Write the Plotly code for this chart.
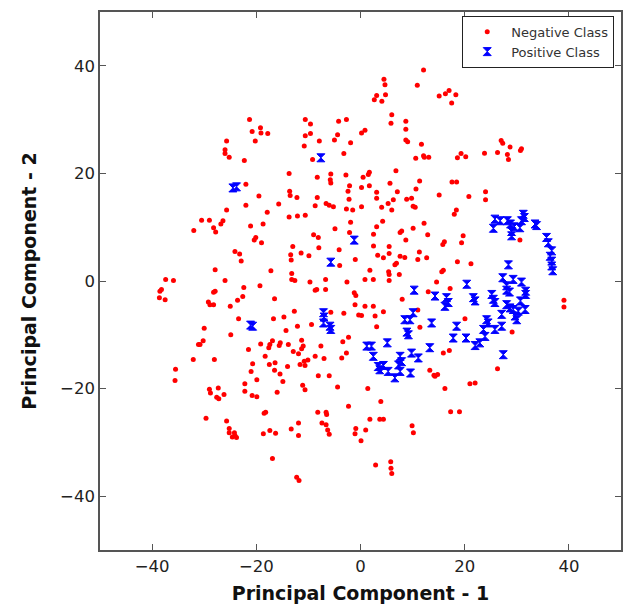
import plotly.graph_objects as go

# Negative class (red dots) - PC1 values
neg_x = [
    -21.3, -10.6, -9.6, -4.2, -2.7, -19.2, -20.8, -19.1, -17.8, -10.6, -9.6, -4.4, -5.0, -1.9,
    -25.7, -20.2, -7.9, -26.0, -26.0, -25.2, -22.3, -10.8, -9.2, -3.2,
    -13.7, -8.3, -5.7, -2.8, -5.8, -5.7, -22.0, -2.1, -2.4, -13.6, -13.5, -12.2, -19.5, -8.3, -2.2,
    -22.0, -15.7, -6.6, -6.0, -5.2, -8.7, -2.7, -1.5, -25.7, -17.9, -13.7, -12.1, -10.6,
    -30.5, -29.0, -26.4, -26.8, -28.2, -27.8, -32.0, -21.1, -18.7, -4.9, -1.9, -2.1, -9.0, -8.1,
    -20.1, -20.4, -19.0, -13.0, -8.0, -4.1, -11.4, -9.9, -13.4, -13.3, -24.1, -23.2, -22.9,
    -4.0, -1.0, -27.9, -17.2, -13.2,
    12.1, 4.5, 4.7, 10.9, 3.1, 2.65, 4.8, 4.1, 15.1, 16.3, 17.0, 18.3, 17.5, 6.0, 5.85, 8.7, 8.7,
    0.86, 0.2, 8.7, 9.05, 11.7, 10.6, 12.1, 12.25, 13.1, 18.6, 19.3, 20.2, 23.8, 26.3, 27.0, 27.3,
    28.7, 28.2, 28.4, 30.7, 30.9, 6.8, 1.7, 1.5, 0.5, 11.35, 17.56, 18.45, 5.66, 1.7, 0.2, 10.65,
    7.07, 3.1, 24.0, 15.1, 20.8, 24.0, 3.1, 8.86, 9.8, 6.3, 5.3, 4.06, 6.0, 10.1, 10.5, 0.2, 18.4,
    18.0, 4.25, 12.2, 3.1, 7.6, 7.9, 10.1, 2.5, 12.9, 19.7, 19.4, 8.7, 16.1, 15.8, 2.5, 5.5, 11.3,
    5.5, 3.3, 4.4, 7.6, 8.5, 12.7, 11.0, 6.9, 6.6, 18.6, 21.2, 1.8, 5.4, 5.5, 7.45, 15.6, 15.9, 30.6,
    -37.4, -35.9, -26.0, -38.2, -38.5, -38.6, -37.5, -27.9, -28.2, -22.4, -19.3, -29.2, -28.9,
    -28.2, -25.0, -23.6, -22.6, -16.5, -13.2, -12.6, -9.7, -8.7, -8.4, -6.7, -6.7, -2.6, -1.2,
    -0.9, -1.05, -12.7, -5.7, -3.2, -0.35, -14.7, -16.7, -12.1, -9.4, -23.4, -30.0, -14.3, -24.9,
    -30.2, -30.8, -31.1, -32.1, -28.05, -35.5, -35.6, -21.5, -19.16, -17.6, -17.4, -16.9, -15.6,
    -15.4, -13.85, -12.9, -11.9, -11.3, -11.0, -11.3, -7.6, -2.3, -3.4, -2.7, -3.6, -8.7, -7.0,
    -10.8, -10.1, -11.6, -10.65, -18.3, -17.5, -16.4, -14.0, -20.7, -21.0, -16.5, -15.45, -14.9,
    -19.9, -22.2, -22.2, -20.8, -19.9, -16.0, -11.1, -10.65, -8.1, -6.0, -4.4, -29.0, -28.8,
    -27.3, -26.2, -27.6, -27.2, -2.3, -29.65, -25.7, -18.5, -18.2, -25.2, -25.2, -24.2, -24.1,
    -24.6, -23.8, -18.65, -17.4, -16.3, -13.3, -11.9, -11.9, -8.2, -6.6, -6.5, -7.4, -6.6, -6.3,
    -6.0, -0.9, -1.05, -16.9, -12.25, -11.8,
    0.86, 2.46, 5.5, 14.6, 17.2, 13.0, 8.0, 0.86, 2.46, 4.4, 0.2, 2.8, 11.0, 3.1, 11.4, 20.05,
    29.1, 39.05, 39.05, 15.9, 17.05, 26.3, 13.3, 14.3, 14.8, 14.1, 16.2, 21.0, 22.0, 1.4, 3.9,
    1.8, 3.7, 4.4, 1.0, 0.1, 9.9, 10.15, 17.3, 19.0, 2.9, 5.8, 5.85, 6.0,
]
# Negative class (red dots) - PC2 values
neg_y = [
    30.0, 30.0, 29.2, 29.7, 30.0, 28.5, 27.8, 27.5, 27.4, 27.0, 27.4, 27.2, 26.2, 25.7,
    26.0, 26.0, 26.0, 24.4, 23.7, 23.0, 22.4, 25.1, 22.6, 23.7,
    20.0, 19.3, 19.9, 19.7, 18.8, 18.2, 18.0, 17.7, 16.7, 16.7, 15.9, 15.5, 15.8, 15.5, 15.2,
    14.1, 14.3, 14.4, 14.1, 13.8, 14.0, 13.4, 13.2, 13.2, 12.8, 11.9, 12.1, 12.2,
    11.3, 11.3, 11.2, 10.6, 9.9, 9.1, 9.4, 10.2, 10.6, 9.7, 10.9, 9.0, 8.6, 8.1,
    8.1, 7.6, 7.1, 6.4, 6.2, 5.8, 5.2, 4.7, 4.9, 3.9, 5.5, 5.0, 3.7,
    2.9, 4.0, 2.1, 1.9, 1.4,
    39.2, 37.5, 36.5, 36.4, 34.5, 33.7, 34.6, 33.4, 34.4, 34.8, 35.4, 34.6, 33.1, 30.9, 29.3, 29.7, 28.2,
    28.0, 27.5, 26.2, 25.9, 25.4, 22.8, 23.3, 23.0, 23.0, 22.9, 23.7, 23.1, 23.75, 23.9, 26.1, 25.6,
    24.9, 23.5, 22.6, 24.25, 24.6, 20.5, 20.2, 19.8, 19.3, 18.6, 18.4, 18.4, 18.15, 17.7, 17.4, 17.1,
    16.6, 16.5, 16.6, 16.0, 15.7, 15.1, 15.4, 15.2, 15.4, 15.1, 14.4, 13.7, 13.2, 13.9, 13.7, 13.8, 13.2,
    12.4, 11.1, 10.75, 10.1, 9.0, 9.3, 9.8, 8.7, 8.6, 8.4, 7.1, 7.6, 7.3, 6.8, 6.5, 6.4, 5.4,
    5.1, 4.8, 4.3, 4.6, 4.35, 4.3, 4.0, 3.3, 3.0, 3.6, 3.2, 2.0, 1.7, 1.2, 1.2, 1.7, 2.0, 7.6,
    0.3, 0.1, 0.1, -1.6, -1.9, -3.1, -3.5, -1.9, -2.1, -1.2, -0.9, -3.9, -4.4,
    -4.4, -4.7, -3.6, -2.9, -3.3, 0.3, 0.1, -0.2, -1.7, -1.6, 0.3, -1.6, -0.2, -2.2,
    -2.7, -4.4, -5.6, -5.8, -6.0, -6.3, -6.7, -7.0, -8.4, -8.1, -7.0, -8.8, -9.2, -10.0,
    -11.1, -11.8, -11.8, -14.6, -14.6, -16.4, -18.5, -12.75, -11.7, -12.4, -11.8, -11.1, -12.0,
    -11.5, -11.8, -13.1, -13.5, -11.0, -12.1, -12.6, -12.1, -10.45, -11.3, -13.4, -14.3, -14.0, -14.4,
    -14.9, -14.7, -15.5, -15.7, -14.0, -15.5, -15.2, -15.9, -15.4, -16.8, -16.6, -17.3, -18.7,
    -18.35, -19.1, -20.5, -21.3, -21.5, -20.7, -19.4, -20.2, -17.6, -17.6, -19.7, -20.1, -20.8,
    -19.9, -21.1, -21.6, -21.9, -23.3, -25.5, -26.0, -24.6, -24.4, -27.4, -28.2, -28.2, -28.7,
    -29.0, -29.1, -28.4, -27.8, -28.3, -27.5, -26.4, -28.7, -24.4, -24.4, -24.8, -26.4, -26.7, -27.7,
    -28.5, -27.4, -28.4, -33.0, -36.5, -37.1,
    0.3, 0.3, 0.1, -0.2, -1.4, -2.0, -3.4, -4.7, -4.7, -5.7, -6.4, -6.5, -5.4, -8.5, -8.6, -7.0,
    -9.5, -3.6, -4.85, -13.4, -12.9, -16.3, -16.6, -17.7, -17.4, -17.5, -20.0, -19.1, -18.97, -20.0, -22.4,
    -25.7, -25.7, -25.7, -27.7, -29.7, -26.9, -28.2, -24.3, -24.3, -34.2, -33.6, -34.8, -35.8,
]

# Positive class (blue hourglass markers)
pos_x = [
    -7.6, -24.5, -23.8, -1.2, -5.7,
    25.8, 25.5, 26.8, 28.2, 28.8, 29.5, 29.0, 29.0, 30.6, 30.9, 31.25, 31.45, 33.5, 33.8,
    35.7, 36.05, 36.7, 36.4, 36.7, 36.7, 36.9, 28.4,
    -21.1, -20.7, -7.1, -7.0, -7.1, -5.85, -5.7,
    20.4, 27.3, 29.3, 30.9, 28.05, 28.05, 28.6, 31.7, 31.7, 10.3, 14.3, 16.5, 16.85, 16.2,
    21.65, 22.0, 25.2, 25.5, 25.8, 30.7, 28.05, 28.7, 29.3, 30.3, 31.6, 29.65, 30.0, 27.1,
    24.2, 24.5, 25.8, 27.1, 23.6, 23.9, 22.9, 22.0, 20.25, 17.8, 18.45, 13.65, 10.1, 9.5,
    8.5, 8.9, 9.2, 5.15, 1.2, 2.1, 2.46, 7.6, 7.9, 7.3, 9.8, 11.1, 13.3, 3.4, 4.4, 3.7,
    5.3, 6.6, 7.6, 9.6, 27.4,
]
pos_y = [
    22.9, 17.3, 17.5, 7.6, 3.5,
    11.5, 9.8, 11.2, 11.2, 10.6, 10.07, 9.2, 8.4, 9.9, 11.2, 12.4, 11.8, 10.6, 10.3,
    8.1, 7.1, 5.6, 4.6, 3.7, 2.8, 1.9, 3.0,
    -8.2, -8.4, -5.9, -6.7, -7.8, -8.4, -9.0,
    -0.6, 0.6, 0.3, -0.2, -0.9, -1.7, -2.05, -1.9, -2.5, -1.7, -2.8, -3.1, -4.0, -4.7,
    -3.1, -3.7, -2.5, -3.4, -4.0, -3.7, -4.4, -5.0, -5.3, -5.6, -5.3, -6.5, -7.2, -6.2,
    -7.2, -7.8, -9.0, -8.4, -9.0, -10.3, -11.5, -12.0, -10.6, -10.6, -8.4, -7.8, -5.9, -7.2,
    -7.2, -9.5, -10.0, -11.5, -12.1, -12.1, -14.0, -14.0, -15.0, -15.6, -13.4, -14.3, -12.4,
    -15.9, -15.7, -16.5, -16.8, -18.0, -16.8, -17.1, -13.7,
]

tick_vals = [-40, -20, 0, 20, 40]

fig = go.Figure()
fig.add_trace(go.Scatter(
    x=neg_x, y=neg_y, mode="markers", name="Negative Class",
    marker=dict(color="#ff0000", size=5, symbol="circle", line=dict(width=0)),
))
fig.add_trace(go.Scatter(
    x=pos_x, y=pos_y, mode="markers", name="Positive Class",
    marker=dict(color="#0000ff", size=8, symbol="hourglass",
                line=dict(width=1, color="#0000ff")),
))

axis_common = dict(
    showgrid=False, zeroline=False, showline=True, mirror="ticks",
    linecolor="#555555", linewidth=1.5, ticks="inside", ticklen=6,
    tickwidth=1, tickcolor="#555555",
    tickfont=dict(family="DejaVu Sans, sans-serif", size=16.5, color="#222222"),
    tickvals=tick_vals,
)
title_font = dict(family="DejaVu Sans, sans-serif", size=19, color="#111111")

fig.update_layout(
    width=623, height=604,
    margin=dict(l=100, r=2, t=12, b=54, autoexpand=False),
    paper_bgcolor="white", plot_bgcolor="white",
    xaxis=dict(range=[-50, 50], title=dict(text="<b>Principal Component - 1</b>",
               font=title_font, standoff=12), **axis_common),
    yaxis=dict(range=[-50, 50], title=dict(text="<b>Principal Component - 2</b>",
               font=title_font, standoff=18), **axis_common),
    legend=dict(x=0.987, y=0.993, xanchor="right", yanchor="top",
                bgcolor="white", bordercolor="#222222", borderwidth=1,
                font=dict(family="DejaVu Sans, sans-serif", size=13, color="#333333"),
                itemsizing="trace", itemwidth=38, tracegroupgap=0),
    showlegend=True,
)

# remove the default page margin so the figure sits at the window's top-left corner
fig.write_html(
    "out.html",
    config={"displayModeBar": False},
    post_script="document.body.style.margin='0px';document.documentElement.style.overflow='hidden';",
)
